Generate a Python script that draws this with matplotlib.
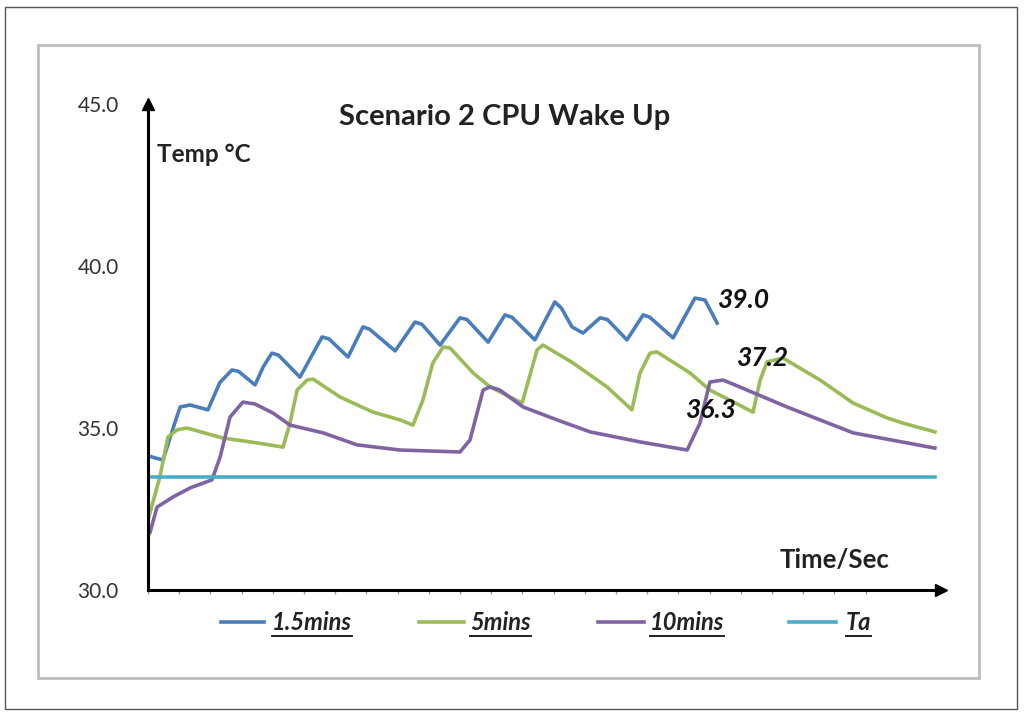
import matplotlib
matplotlib.use("Agg")
import matplotlib.pyplot as plt
from matplotlib.lines import Line2D
from matplotlib.patches import Rectangle

plt.rcParams["font.family"] = ["Lato", "DejaVu Sans"]

# x in tick units (24 tick marks along the time axis), y in deg C
x_15 = [0, 0.48, 0.84, 1.03, 1.35, 1.92, 2.3, 2.69, 2.9, 3.43, 3.7, 3.97, 4.18,
        4.87, 5.58, 5.8, 6.41, 6.89, 7.1, 7.92, 8.56, 8.78, 9.36, 10.0, 10.22,
        10.9, 11.44, 11.66, 12.4, 13.04, 13.25, 13.59, 13.94, 14.49, 14.72, 15.35,
        15.87, 16.08, 16.83, 17.53, 17.85, 18.24]
y_15 = [34.14, 34.01, 35.1, 35.65, 35.71, 35.56, 36.4, 36.79, 36.75, 36.33, 36.9, 37.31, 37.25,
        36.57, 37.81, 37.75, 37.19, 38.12, 38.05, 37.38, 38.27, 38.2, 37.56, 38.4, 38.35,
        37.65, 38.49, 38.42, 37.72, 38.89, 38.7, 38.12, 37.93, 38.4, 38.35, 37.72,
        38.49, 38.42, 37.78, 39.01, 38.95, 38.24]

x_5 = [0, 0.38, 0.64, 0.93, 1.25, 2.4, 3.49, 4.33, 4.55, 4.78, 5.1, 5.29, 6.15,
       7.21, 8.08, 8.49, 8.81, 9.13, 9.46, 9.68, 10.42, 10.96, 11.99, 12.47, 12.66,
       13.62, 14.71, 15.51, 15.77, 16.09, 16.31, 17.37, 18.01, 18.65, 19.39, 19.62,
       19.84, 20.35, 21.54, 22.6, 23.69, 24.2, 25.22]
y_5 = [32.16, 33.49, 34.72, 34.94, 35.0, 34.69, 34.54, 34.41, 35.15, 36.17, 36.48, 36.51, 35.96,
       35.49, 35.25, 35.09, 35.86, 37.01, 37.5, 37.47, 36.7, 36.27, 35.77, 37.41, 37.56,
       37.01, 36.27, 35.56, 36.7, 37.31, 37.35, 36.7, 36.17, 35.86, 35.49, 36.48,
       37.04, 37.16, 36.48, 35.77, 35.31, 35.15, 34.88]

x_10 = [0, 0.06, 0.29, 0.8, 1.35, 2.05, 2.31, 2.63, 3.04, 3.43, 4.01, 4.55, 5.61,
        6.7, 8.08, 10.0, 10.32, 10.74, 10.96, 11.28, 12.02, 13.11, 14.17, 15.77,
        17.28, 17.69, 18.01, 18.43, 18.81, 20.48, 22.6, 25.22]
y_10 = [31.85, 31.76, 32.56, 32.87, 33.15, 33.4, 34.1, 35.34, 35.8, 35.74, 35.46, 35.09, 34.85,
        34.48, 34.32, 34.26, 34.63, 36.17, 36.27, 36.17, 35.65, 35.25, 34.88, 34.57,
        34.32, 35.15, 36.42, 36.48, 36.33, 35.65, 34.85, 34.38]

x_ta = [0, 25.22]
y_ta = [33.5, 33.5]

series = [("1.5mins", x_15, y_15, "#4a7ebb"),
          ("5mins", x_5, y_5, "#9bbb59"),
          ("10mins", x_10, y_10, "#8064a2"),
          ("Ta", x_ta, y_ta, "#4bacc6")]

labels = [("39.0", 18.25, 38.95), ("37.2", 18.85, 37.16), ("36.3", 17.2, 35.56)]

W, H = 1024, 715
fig = plt.figure(figsize=(W / 100, H / 100), dpi=100)

def fx(px):
    return px / W

def fy(py):
    return 1 - py / H

# outer and inner frames
fig.add_artist(Rectangle((fx(5), fy(709)), fx(1012), 702 / H, transform=fig.transFigure,
                         fill=False, ec="#555555", lw=1))
fig.add_artist(Rectangle((fx(38), fy(678)), fx(941), 633 / H, transform=fig.transFigure,
                         fill=False, ec="#bdbdbd", lw=2))

ax = fig.add_axes([fx(148), fy(590), fx(940.5 - 148), (590 - 104) / H])
for name, xs, ys, c in series:
    ax.plot(xs, ys, color=c, lw=2.6, solid_joinstyle="round")

ax.set_xlim(0, 25.4)
ax.set_ylim(30, 45)
ax.spines[["top", "right"]].set_visible(False)
for s in ("left", "bottom"):
    ax.spines[s].set_linewidth(2.2)
    ax.spines[s].set_color("black")
ax.plot(1, 0, ">k", ms=8, transform=ax.transAxes, clip_on=False)
ax.plot(0, 1, "^k", ms=8, transform=ax.transAxes, clip_on=False)

ax.set_yticks([30, 35, 40, 45])
ax.set_yticklabels(["30.0", "35.0", "40.0", "45.0"])
ax.tick_params(axis="y", length=0, pad=21, labelsize=15, labelcolor="#333333")
ax.set_xticks(range(24))
ax.set_xticklabels([])
ax.tick_params(axis="x", length=3, width=1, color="#999999", direction="out")

for t, x, y in labels:
    ax.text(x, y, t, fontsize=19, fontstyle="italic", fontweight="bold",
            ha="left", va="center", color="#111111")

fig.text(fx(505), fy(117), "Scenario 2 CPU Wake Up", fontsize=21, fontweight="bold",
         ha="center", va="center", color="#222222")
fig.text(fx(157), fy(155), "Temp °C", fontsize=17.5, fontweight="bold",
         ha="left", va="center", color="#222222")
fig.text(fx(780), fy(560), "Time/Sec", fontsize=18.5, fontweight="bold",
         ha="left", va="center", color="#222222")

# legend drawn by hand so the labels can be underlined
leg_pos = [(221, 264, 272), (419, 464, 470), (598, 644, 650), (789, 836, 846)]
texts = []
for (name, xs, ys, c), (l0, l1, tx) in zip(series, leg_pos):
    fig.add_artist(Line2D([fx(l0), fx(l1)], [fy(622), fy(622)], color=c, lw=2.6,
                          transform=fig.transFigure))
    texts.append(fig.text(fx(tx), fy(623), name, fontsize=17, fontstyle="italic",
                          fontweight="bold", ha="left", va="center", color="#222222"))

fig.canvas.draw()
r = fig.canvas.get_renderer()
for t in texts:
    bb = t.get_window_extent(r)
    fig.add_artist(Line2D([bb.x0 / W, bb.x1 / W], [fy(636), fy(636)], color="#222222",
                          lw=1.4, transform=fig.transFigure))

fig.savefig("out.png", dpi=100)
